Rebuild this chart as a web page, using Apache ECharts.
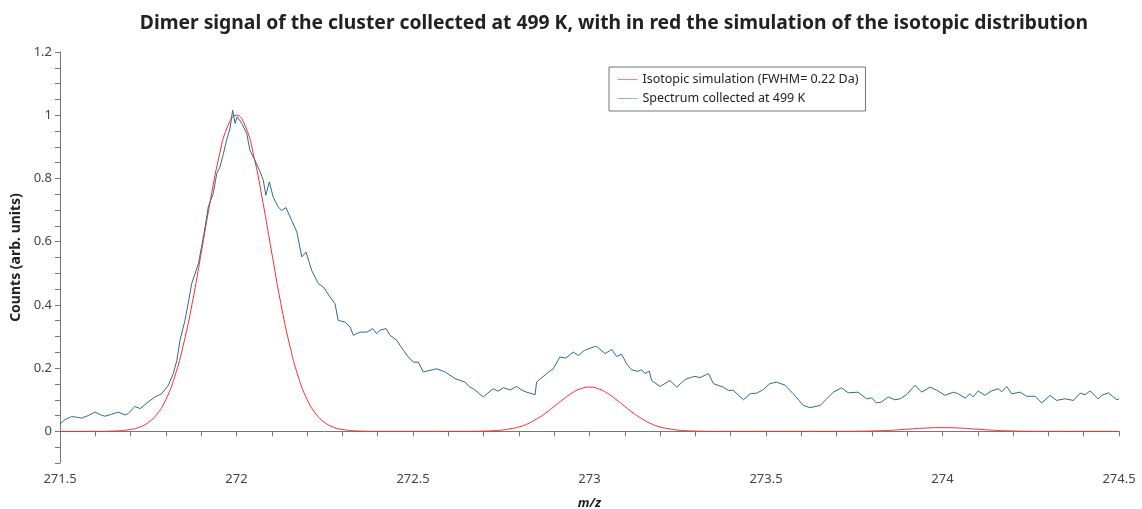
<!DOCTYPE html>
<html lang="en">
<head>
    <meta charset="UTF-8">
    <title>Dimer signal at 499 K</title>
    <script src="https://cdn.jsdelivr.net/npm/echarts@6/dist/echarts.min.js"></script>
    <style>
        html, body { margin: 0; padding: 0; background: #fff; }
        #main { width: 1142px; height: 509px; }
    </style>
</head>
<body>

<div id="main"></div>

<script>
    // isotopic simulation (red)
    const mzSim = [271.5, 271.6, 271.65, 271.7, 271.725, 271.75, 271.775, 271.8, 271.825, 271.85, 271.875, 271.9, 271.925, 271.95, 271.975, 272,
        272.025, 272.05, 272.075, 272.1, 272.125, 272.15, 272.175, 272.2, 272.225, 272.25, 272.275, 272.3, 272.35, 272.4,
        272.6, 272.65, 272.7, 272.725, 272.75, 272.775, 272.8, 272.825, 272.85, 272.875, 272.9, 272.925, 272.95, 272.975, 273,
        273.025, 273.05, 273.075, 273.1, 273.125, 273.15, 273.175, 273.2, 273.225, 273.25, 273.275, 273.3, 273.35, 273.4,
        273.7, 273.75, 273.8, 273.85, 273.9, 273.95, 274, 274.05, 274.1, 274.15, 274.2, 274.25, 274.3, 274.5];
    const countsSim = [0, 0, 0.001, 0.006, 0.013, 0.028, 0.055, 0.101, 0.173, 0.276, 0.408, 0.564, 0.724, 0.866, 0.965, 1.0,
        0.965, 0.866, 0.724, 0.564, 0.408, 0.276, 0.173, 0.101, 0.055, 0.028, 0.013, 0.006, 0.001, 0,
        0, 0, 0.001, 0.002, 0.004, 0.008, 0.014, 0.024, 0.039, 0.057, 0.079, 0.101, 0.121, 0.135, 0.140,
        0.135, 0.121, 0.101, 0.079, 0.057, 0.039, 0.024, 0.014, 0.008, 0.004, 0.002, 0.001, 0, 0,
        0, 0.0003, 0.0012, 0.0033, 0.0068, 0.0104, 0.012, 0.0104, 0.0068, 0.0033, 0.0012, 0.0003, 0, 0];

    // measured spectrum (blue)
    const mzSpec = [271.500, 271.514, 271.533, 271.552, 271.561, 271.580, 271.599, 271.618, 271.627, 271.646,
        271.665, 271.684, 271.693, 271.712, 271.727, 271.750, 271.769, 271.788, 271.807, 271.821,
        271.831, 271.840, 271.854, 271.863, 271.873, 271.892, 271.901, 271.911, 271.920, 271.934,
        271.944, 271.953, 271.963, 271.972, 271.982, 271.989, 271.996, 272.002, 272.015, 272.029,
        272.038, 272.052, 272.067, 272.076, 272.083, 272.093, 272.104, 272.118, 272.128, 272.140,
        272.156, 272.171, 272.185, 272.197, 272.213, 272.232, 272.246, 272.265, 272.279, 272.288,
        272.307, 272.322, 272.331, 272.350, 272.369, 272.386, 272.397, 272.406, 272.424, 272.435,
        272.454, 272.473, 272.487, 272.501, 272.515, 272.529, 272.567, 272.591, 272.619, 272.647,
        272.661, 272.671, 272.699, 272.727, 272.741, 272.756, 272.775, 272.794, 272.809, 272.822,
        272.846, 272.850, 272.879, 272.897, 272.916, 272.933, 272.954, 272.968, 272.986, 273.011,
        273.020, 273.044, 273.063, 273.077, 273.091, 273.105, 273.119, 273.137, 273.148, 273.157,
        273.169, 273.176, 273.200, 273.228, 273.247, 273.271, 273.285, 273.299, 273.313, 273.337,
        273.351, 273.379, 273.393, 273.407, 273.436, 273.455, 273.474, 273.492, 273.511, 273.530,
        273.554, 273.577, 273.606, 273.625, 273.653, 273.672, 273.691, 273.714, 273.733, 273.761,
        273.785, 273.799, 273.813, 273.827, 273.846, 273.865, 273.880, 273.899, 273.922, 273.941,
        273.965, 273.984, 274.007, 274.031, 274.045, 274.064, 274.078, 274.087, 274.101, 274.120,
        274.139, 274.158, 274.168, 274.182, 274.196, 274.220, 274.238, 274.262, 274.281, 274.305,
        274.323, 274.347, 274.371, 274.390, 274.404, 274.418, 274.441, 274.451, 274.470, 274.484,
        274.494, 274.500];
    const countsSpec = [0.024, 0.037, 0.047, 0.044, 0.042, 0.050, 0.061, 0.051, 0.048, 0.054,
        0.061, 0.052, 0.056, 0.079, 0.072, 0.093, 0.109, 0.119, 0.146, 0.183,
        0.225, 0.288, 0.351, 0.404, 0.467, 0.531, 0.583, 0.646, 0.710, 0.752,
        0.815, 0.836, 0.879, 0.921, 0.960, 1.016, 0.974, 0.995, 0.974, 0.942,
        0.889, 0.858, 0.821, 0.794, 0.747, 0.789, 0.741, 0.710, 0.699, 0.708,
        0.668, 0.631, 0.552, 0.567, 0.509, 0.467, 0.457, 0.425, 0.404, 0.351,
        0.346, 0.330, 0.304, 0.314, 0.314, 0.325, 0.309, 0.320, 0.325, 0.304,
        0.288, 0.256, 0.235, 0.219, 0.219, 0.188, 0.198, 0.188, 0.167, 0.156,
        0.140, 0.135, 0.109, 0.135, 0.127, 0.138, 0.131, 0.142, 0.130, 0.124,
        0.116, 0.156, 0.183, 0.198, 0.235, 0.232, 0.251, 0.240, 0.256, 0.267,
        0.269, 0.246, 0.259, 0.237, 0.244, 0.214, 0.195, 0.190, 0.195, 0.183,
        0.191, 0.161, 0.142, 0.161, 0.140, 0.164, 0.170, 0.174, 0.170, 0.183,
        0.151, 0.140, 0.130, 0.130, 0.100, 0.119, 0.121, 0.132, 0.151, 0.156,
        0.146, 0.119, 0.082, 0.075, 0.082, 0.103, 0.124, 0.138, 0.122, 0.124,
        0.103, 0.106, 0.090, 0.093, 0.109, 0.100, 0.103, 0.117, 0.146, 0.124,
        0.140, 0.130, 0.114, 0.124, 0.119, 0.105, 0.119, 0.109, 0.128, 0.114,
        0.128, 0.135, 0.125, 0.142, 0.119, 0.124, 0.111, 0.111, 0.090, 0.114,
        0.098, 0.103, 0.098, 0.121, 0.116, 0.128, 0.103, 0.114, 0.122, 0.109,
        0.100, 0.103];

    const simName = 'Isotopic simulation (FWHM= 0.22 Da)';
    const specName = 'Spectrum collected at 499 K';

    const chart = echarts.init(document.getElementById('main'));

    const simData = mzSim.map((x, i) => [x, countsSim[i]]);
    const specData = mzSpec.map((x, i) => [x, countsSpec[i]]);

    const option = {
        animation: false,
        textStyle: { fontFamily: 'Noto Sans' },
        title: {
            text: 'Dimer signal of the cluster collected at 499 K, with in red the simulation of the isotopic distribution',
            left: 609,
            top: 9,
            textAlign: 'center',
            textStyle: { fontFamily: 'Noto Sans', fontWeight: 'bold', fontSize: 19.3, color: '#222' }
        },
        legend: {
            orient: 'vertical',
            left: 609,
            top: 67,
            padding: [6, 7, 6, 8],
            itemGap: 6,
            itemWidth: 20,
            itemHeight: 10,
            borderColor: '#777',
            borderWidth: 1,
            textStyle: { fontFamily: 'Noto Sans', fontSize: 12.5, color: '#222' },
            data: [
                { name: simName, lineStyle: { color: '#ff8080', width: 1 }, itemStyle: { opacity: 0 } },
                { name: specName, lineStyle: { color: '#8fb4cc', width: 1 }, itemStyle: { opacity: 0 } }
            ]
        },
        grid: { left: 60, right: 23, top: 52, bottom: 46, outerBoundsMode: 'none' },
        xAxis: {
            type: 'value',
            min: 271.5,
            max: 274.5,
            interval: 0.1,
            name: 'm/z',
            nameLocation: 'middle',
            nameGap: 34,
            nameTextStyle: { fontFamily: 'Noto Sans', fontWeight: 'bold', fontStyle: 'italic', fontSize: 13, color: '#222' },
            axisLine: { lineStyle: { color: '#777', width: 1 } },
            axisTick: { length: 5, lineStyle: { color: '#777' } },
            splitLine: { show: false },
            axisLabel: {
                fontSize: 13,
                color: '#444',
                margin: 10,
                formatter: function (v) {
                    const k = Math.round(v * 10);
                    return k % 5 === 0 ? String(k / 10) : '';
                }
            }
        },
        yAxis: {
            type: 'value',
            min: -0.1,
            max: 1.2,
            interval: 0.05,
            name: 'Counts (arb. units)',
            nameLocation: 'middle',
            nameGap: 31,
            nameTextStyle: { fontFamily: 'Noto Sans', fontWeight: 'bold', fontSize: 14, color: '#222' },
            axisLine: { show: true, lineStyle: { color: '#777', width: 1 } },
            axisTick: { show: true, length: 5, lineStyle: { color: '#777' } },
            splitLine: { show: false },
            axisLabel: {
                fontSize: 13,
                color: '#444',
                formatter: function (v) {
                    const k = Math.round(v * 20);
                    return (k % 4 === 0 && k >= 0) ? String(k / 20) : '';
                }
            }
        },
        series: [
            {
                name: simName,
                type: 'line',
                data: simData,
                symbol: 'none',
                smooth: true,
                lineStyle: { color: '#ff2a2a', width: 1 },
                itemStyle: { color: '#ff2a2a' },
                z: 2
            },
            {
                name: specName,
                type: 'line',
                data: specData,
                symbol: 'none',
                lineStyle: { color: '#2c6b91', width: 1 },
                itemStyle: { color: '#2c6b91' },
                z: 3
            }
        ]
    };

    chart.setOption(option);
</script>

</body>
</html>
